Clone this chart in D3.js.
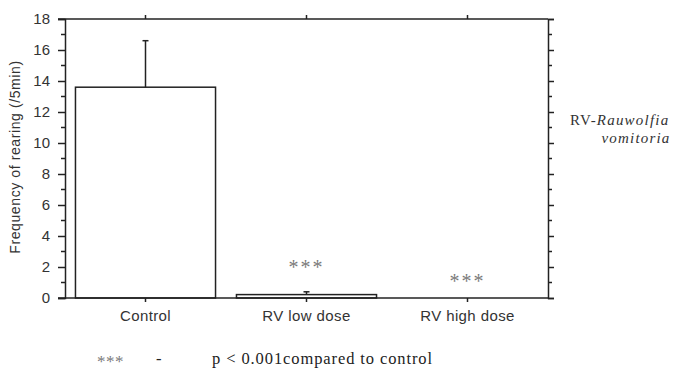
<!DOCTYPE html>
<html>
<head>
<meta charset="utf-8">
<script src="https://cdn.jsdelivr.net/npm/d3@7"></script>
<style>
  body { margin: 0; background: #fff; }
  svg { display: block; }
</style>
</head>
<body>
<svg id="canvas" width="675" height="376"></svg>
<script>
const categories = ["Control", "RV low dose", "RV high dose"]
const means = [13.6, 0.22, 0]
const errors = [3.0, 0.18, 0]
const marks = ["", "***", "***"]
const yTicks = [0, 2, 4, 6, 8, 10, 12, 14, 16, 18]

const plotLeft = 65
const plotRight = 548
const plotTop = 19
const plotBottom = 298
const ink = "#222"

let svg = d3.select("#canvas")

let xScale = d3.scaleBand()
    .domain(categories)
    .range([plotLeft, plotRight])
    .paddingInner(0.13)
    .paddingOuter(0.065)

let yScale = d3.scaleLinear()
    .domain([0, 18])
    .range([plotBottom, plotTop])

// bars
svg.selectAll(".bar")
    .data(categories)
    .enter()
    .append("rect")
    .attr("class", "bar")
    .attr("x", d => xScale(d))
    .attr("width", xScale.bandwidth())
    .attr("y", (d, i) => yScale(means[i]))
    .attr("height", (d, i) => plotBottom - yScale(means[i]))
    .attr("fill", "#fff")
    .attr("stroke", ink)
    .attr("stroke-width", 1.5)
    .style("display", (d, i) => means[i] > 0 ? null : "none")

// error bars (upper only)
categories.forEach((c, i) => {
    if (errors[i] <= 0) return
    let cx = xScale(c) + xScale.bandwidth() / 2
    svg.append("line")
        .attr("x1", cx).attr("x2", cx)
        .attr("y1", yScale(means[i])).attr("y2", yScale(means[i] + errors[i]))
        .attr("stroke", ink).attr("stroke-width", 1.5)
    svg.append("line")
        .attr("x1", cx - 3).attr("x2", cx + 3)
        .attr("y1", yScale(means[i] + errors[i])).attr("y2", yScale(means[i] + errors[i]))
        .attr("stroke", ink).attr("stroke-width", 1.5)
})

// significance stars
svg.selectAll(".star")
    .data(categories)
    .enter()
    .append("text")
    .attr("class", "star")
    .attr("x", d => xScale(d) + xScale.bandwidth() / 2)
    .attr("y", (d, i) => i === 1 ? 274 : 288)
    .attr("text-anchor", "middle")
    .attr("font-family", "Liberation Serif, serif")
    .attr("font-size", 20)
    .attr("letter-spacing", 2)
    .attr("fill", "#7a7a7a")
    .text((d, i) => marks[i])

// left axis
let yAxis = d3.axisLeft(yScale)
    .tickValues(yTicks)
    .tickSize(7)
    .tickPadding(8)

let gy = svg.append("g")
    .attr("transform", "translate(" + plotLeft + ",0)")
    .call(yAxis)
gy.select(".domain").attr("stroke", ink).attr("stroke-width", 1.5)
gy.selectAll(".tick line").attr("stroke", ink).attr("stroke-width", 1.5)
gy.selectAll("text")
    .attr("font-family", "Liberation Sans, Arial, sans-serif")
    .attr("font-size", 15)
    .attr("fill", "#333")

let minor = d3.range(1, 18, 2)
svg.append("g")
    .selectAll("line")
    .data(minor)
    .enter()
    .append("line")
    .attr("x1", plotLeft - 4).attr("x2", plotLeft)
    .attr("y1", d => yScale(d)).attr("y2", d => yScale(d))
    .attr("stroke", ink).attr("stroke-width", 1.5)

// right axis
let yAxisRight = d3.axisRight(yScale)
    .tickValues(yTicks)
    .tickSize(6)
    .tickFormat("")
let gr = svg.append("g")
    .attr("transform", "translate(" + plotRight + ",0)")
    .call(yAxisRight)
gr.select(".domain").attr("stroke", ink).attr("stroke-width", 1.5)
gr.selectAll(".tick line").attr("stroke", ink).attr("stroke-width", 1.5)
svg.append("g")
    .selectAll("line")
    .data(minor)
    .enter()
    .append("line")
    .attr("x1", plotRight).attr("x2", plotRight + 4)
    .attr("y1", d => yScale(d)).attr("y2", d => yScale(d))
    .attr("stroke", ink).attr("stroke-width", 1.5)

// bottom axis
let xAxis = d3.axisBottom(xScale)
    .tickSize(4)
    .tickPadding(8)
let gx = svg.append("g")
    .attr("transform", "translate(0," + plotBottom + ")")
    .call(xAxis)
gx.select(".domain").attr("d", "M" + (plotLeft - 7) + ",0H" + plotRight).attr("stroke", ink).attr("stroke-width", 1.5)
gx.selectAll(".tick line").attr("stroke", ink).attr("stroke-width", 1.5)
gx.selectAll("text")
    .attr("font-family", "Liberation Sans, Arial, sans-serif")
    .attr("font-size", 15)
    .attr("letter-spacing", 0.4)
    .attr("fill", "#333")

// top axis
let xAxisTop = d3.axisTop(xScale)
    .tickSize(4)
    .tickFormat("")
let gt = svg.append("g")
    .attr("transform", "translate(0," + plotTop + ")")
    .call(xAxisTop)
gt.select(".domain").attr("d", "M" + (plotLeft - 7) + ",0H" + plotRight).attr("stroke", ink).attr("stroke-width", 1.5)
gt.selectAll(".tick line").attr("stroke", ink).attr("stroke-width", 1.5)

// y label
svg.append("text")
    .attr("transform", "translate(20,157) rotate(-90)")
    .attr("text-anchor", "middle")
    .attr("font-family", "Liberation Sans, Arial, sans-serif")
    .attr("font-size", 14)
    .attr("letter-spacing", 0.6)
    .attr("fill", "#333")
    .text("Frequency of rearing (/5min)")

// side legend
let side = svg.append("text")
    .attr("x", 570)
    .attr("y", 125)
    .attr("font-family", "Liberation Serif, serif")
    .attr("font-size", 15)
    .attr("letter-spacing", 1.2)
    .attr("fill", "#333")
side.append("tspan").text("RV-")
side.append("tspan").attr("font-style", "italic").text("Rauwolfia")
svg.append("text")
    .attr("x", 636)
    .attr("y", 143)
    .attr("text-anchor", "middle")
    .attr("font-family", "Liberation Serif, serif")
    .attr("font-size", 15)
    .attr("letter-spacing", 1.2)
    .attr("font-style", "italic")
    .attr("fill", "#333")
    .text("vomitoria")

// footnote
let foot = svg.append("g")
    .attr("font-family", "Liberation Serif, serif")
    .attr("font-size", 16.5)
    .attr("fill", "#222")
foot.append("text").attr("x", 97).attr("y", 367).attr("font-size", 17).attr("fill", "#7a7a7a").attr("letter-spacing", 0.5).text("***")
foot.append("text").attr("x", 156).attr("y", 364).text("-")
foot.append("text").attr("x", 212).attr("y", 364).attr("letter-spacing", 0.9).text("p < 0.001compared to control")
</script>
</body>
</html>
